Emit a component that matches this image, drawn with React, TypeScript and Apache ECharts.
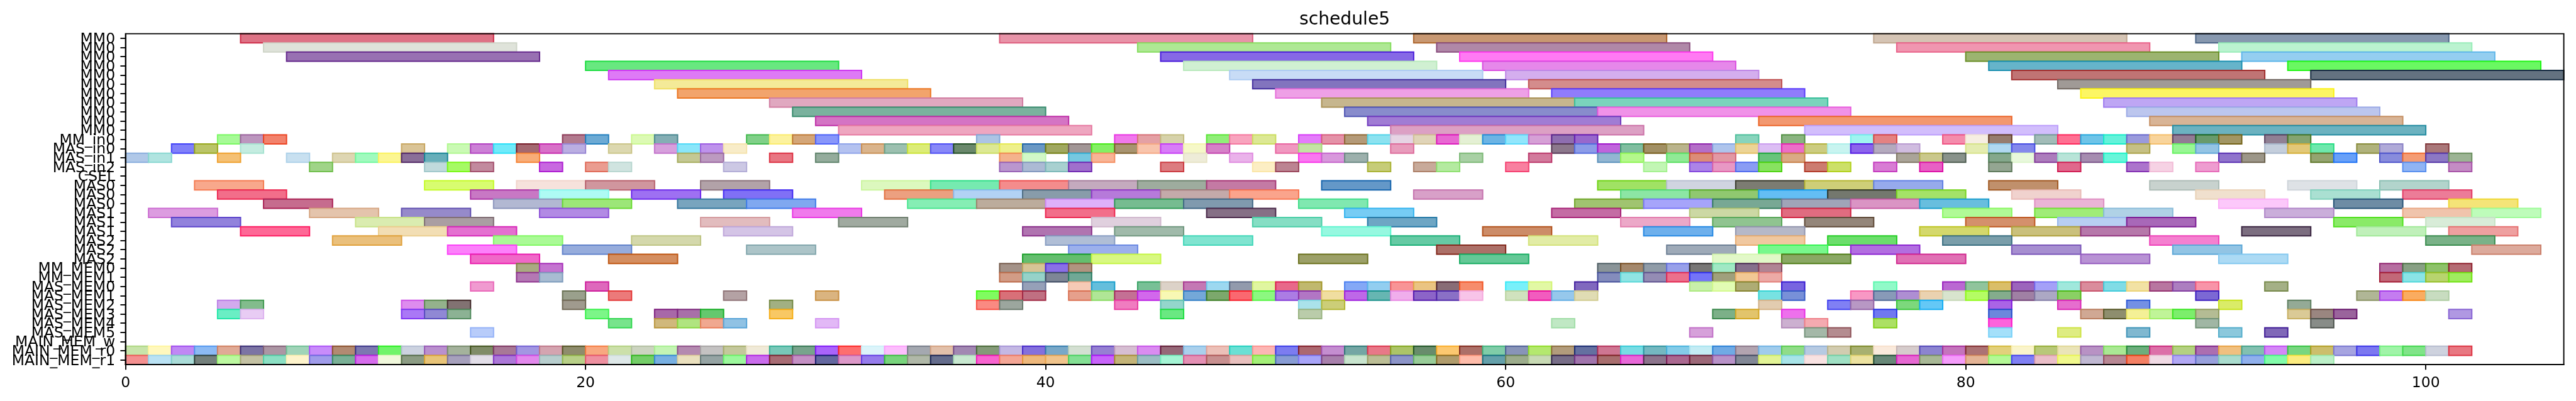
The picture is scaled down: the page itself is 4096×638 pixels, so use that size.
import React, { useEffect, useRef } from 'react';
import * as echarts from 'echarts';

type Task = [number, number, string];

const chartTitle = 'schedule5';
const xTickValues = [0, 20, 40, 60, 80, 100];
const xMin = 0;
const xMax = 106;

const rowLabels = [
  'MM0', 'MM0', 'MM0', 'MM0', 'MM0', 'MM0', 'MM0', 'MM0', 'MM0', 'MM0', 'MM0',
  'MM_in0', 'MAS_in0', 'MAS_in1', 'MAS_in2', 'CSEL',
  'MAS0', 'MAS0', 'MAS0', 'MAS1', 'MAS1', 'MAS1', 'MAS2', 'MAS2', 'MAS2',
  'MM_MEM0', 'MM_MEM1',
  'MAS_MEM0', 'MAS_MEM1', 'MAS_MEM2', 'MAS_MEM3', 'MAS_MEM4', 'MAS_MEM5',
  'MAIN_MEM_w', 'MAIN_MEM_r0', 'MAIN_MEM_r1',
];

const row00: Task[] = [[5, 16, '#de7285'], [38, 49, '#e893a8'], [56, 67, '#c89872'], [76, 87, '#d5c4b4'], [90, 101, '#8798af']];
const row01: Task[] = [[6, 17, '#dfe3da'], [44, 55, '#aee894'], [57, 68, '#b088a8'], [77, 88, '#f096b0'], [91, 102, '#bbf3d0']];
const row02: Task[] = [[7, 18, '#9870b2'], [45, 56, '#8668e6'], [58, 69, '#ff7af3'], [80, 91, '#9cb470'], [92, 103, '#94cef0']];
const row03: Task[] = [[20, 31, '#68e880'], [46, 57, '#d0f0d2'], [59, 70, '#e688ea'], [81, 92, '#66b4ca'], [94, 105, '#6af862']];
const row04: Task[] = [[21, 32, '#de7af6'], [48, 59, '#c8dcf6'], [60, 71, '#d4aeee'], [82, 93, '#c07474'], [95, 106, '#647280']];
const row05: Task[] = [[23, 34, '#f4ea98'], [49, 60, '#8274be'], [61, 72, '#d48c8c'], [84, 95, '#a09a96']];
const row06: Task[] = [[24, 35, '#f2a46c'], [50, 61, '#eea0e6'], [62, 73, '#907cfc'], [85, 96, '#fcf664']];
const row07: Task[] = [[28, 39, '#e0a8c0'], [52, 63, '#c6b68e'], [63, 74, '#7ad4bc'], [86, 97, '#bea6f4']];
const row08: Task[] = [[29, 40, '#7ab29e'], [53, 64, '#888ccc'], [64, 75, '#f092e8'], [87, 98, '#bcc6ee']];
const row09: Task[] = [[30, 41, '#d474c4'], [54, 65, '#a07cd4'], [71, 82, '#f29870'], [88, 99, '#d8b496']];
const row10: Task[] = [[31, 42, '#eea6c0'], [55, 66, '#dca0c4'], [73, 84, '#d2befc'], [89, 100, '#6cb2c0']];

const row11: Task[] = [
  [4, 5, '#a6fa96'], [5, 6, '#bc96be'], [6, 7, '#f2826c'],
  [19, 20, '#b27a8e'], [20, 21, '#6caad4'], [22, 23, '#dcfab4'], [23, 24, '#84aeb4'], [27, 28, '#80d088'], [28, 29, '#fcf29e'], [29, 30, '#d4a678'], [30, 31, '#8896fa'],
  [37, 38, '#acc4e4'], [43, 44, '#f078ec'], [44, 45, '#e4a0a4'], [45, 46, '#d6d2aa'],
  [47, 48, '#90ee78'], [48, 49, '#f8a4be'], [49, 50, '#dce894'], [51, 52, '#e47cfa'], [52, 53, '#e492a8'], [53, 54, '#b49a78'], [54, 55, '#8ce2f0'], [55, 56, '#e6d4e4'], [56, 57, '#e0d4b8'], [57, 58, '#e868d2'], [58, 59, '#e4f0d4'], [59, 60, '#6cb4e4'], [60, 61, '#92e6fc'],
  [61, 62, '#d6a0d6'], [62, 63, '#8e6eb0'], [63, 64, '#9868cc'], [70, 71, '#88d4bc'], [72, 73, '#8ab480'], [75, 76, '#a0f4f0'],
  [76, 77, '#e48282'], [79, 80, '#f48cac'], [80, 81, '#f6eee2'], [81, 82, '#967c6e'], [83, 84, '#a2bcb8'], [84, 85, '#fe7092'], [85, 86, '#6ec4e8'], [86, 87, '#64f2da'], [87, 88, '#9a9adc'], [88, 89, '#f8d49c'], [89, 90, '#927c94'], [90, 91, '#689a6c'], [91, 92, '#a29664'],
  [93, 94, '#908094'], [94, 95, '#84a470'],
];
const row12: Task[] = [
  [2, 3, '#8080fa'], [3, 4, '#bac468'], [5, 6, '#c4ece0'], [12, 13, '#dac496'], [14, 15, '#cafab4'], [15, 16, '#cc80d6'],
  [16, 17, '#70eafa'], [17, 18, '#a46870'], [18, 19, '#d870c8'], [19, 20, '#baaee2'], [21, 22, '#dcd8b0'], [23, 24, '#d6a0dc'], [24, 25, '#8ae6fa'], [25, 26, '#be92ec'], [26, 27, '#f8ecc8'],
  [31, 32, '#b4c2f0'], [32, 33, '#dab48c'], [33, 34, '#9cc0b0'], [34, 35, '#dcec78'], [35, 36, '#8888f8'], [36, 37, '#6a886c'], [37, 38, '#dce894'], [38, 39, '#eef08c'], [39, 40, '#6a98c4'], [40, 41, '#a0a860'], [41, 42, '#a29696'], [42, 43, '#84f064'], [43, 44, '#a89470'], [44, 45, '#f8c4ac'], [45, 46, '#d87cf8'],
  [46, 47, '#f6f8c8'], [47, 48, '#d680c8'], [50, 51, '#f098c0'], [51, 52, '#c4e4a4'], [55, 56, '#e89cbc'],
  [62, 63, '#8c788c'], [63, 64, '#8c9ce8'], [64, 65, '#c064dc'], [65, 66, '#80bea0'], [66, 67, '#a29064'], [67, 68, '#bab48c'], [68, 69, '#b46ec8'], [69, 70, '#aec4ec'], [70, 71, '#ecd496'], [71, 72, '#dcbef4'], [72, 73, '#ec6ec8'], [73, 74, '#cccc80'], [74, 75, '#c8f4f0'], [75, 76, '#8c64ec'],
  [76, 77, '#b4aabe'], [77, 78, '#d0bce0'], [80, 81, '#e4ecb0'], [81, 82, '#b0d8f0'], [82, 83, '#8488ec'], [87, 88, '#c6c084'], [89, 90, '#98f694'], [90, 91, '#94c4e4'],
  [93, 94, '#c4cedc'], [94, 95, '#e2c878'], [95, 96, '#6ee8ac'], [97, 98, '#b0b27c'], [98, 99, '#b0aad8'], [100, 101, '#aa787a'],
];
const row13: Task[] = [
  [0, 1, '#b0c8e8'], [1, 2, '#b0e4e0'], [4, 5, '#f4c074'], [7, 8, '#c8e0f0'], [9, 10, '#ded6b2'], [10, 11, '#a0fabe'], [11, 12, '#fcf692'], [12, 13, '#8a6e98'], [13, 14, '#66aeba'],
  [17, 18, '#f8ac78'], [24, 25, '#c4c894'], [25, 26, '#bc9ac0'], [28, 29, '#e87682'], [30, 31, '#94ac9c'],
  [38, 39, '#f4b28c'], [39, 40, '#d2f8c8'], [41, 42, '#76c8e0'], [42, 43, '#f8b496'],
  [46, 47, '#eeecd8'], [48, 49, '#eab2ea'], [51, 52, '#fa78f0'], [52, 53, '#d898dc'], [53, 54, '#9cb0ac'], [58, 59, '#a8d0a4'],
  [61, 62, '#d27a9c'], [64, 65, '#92b6d2'], [65, 66, '#b4f88c'], [67, 68, '#90ea96'], [68, 69, '#dc8c78'], [69, 70, '#e298a4'], [71, 72, '#68c47c'], [72, 73, '#daaa84'],
  [77, 78, '#aaa498'], [78, 79, '#cac88c'], [79, 80, '#88928a'], [81, 82, '#84a88c'], [82, 83, '#e8f8dc'], [83, 84, '#ac7cbc'], [84, 85, '#b8e4d8'], [85, 86, '#a68cb0'], [86, 87, '#68f6da'], [91, 92, '#9074cc'],
  [92, 93, '#9c9688'], [95, 96, '#94a470'], [96, 97, '#68a0f8'], [98, 99, '#888cdc'], [99, 100, '#f49c74'], [100, 101, '#8c78c4'], [101, 102, '#9cb494'],
];
const row14: Task[] = [
  [8, 9, '#a0d488'], [13, 14, '#c0dadc'], [14, 15, '#a6fa64'], [15, 16, '#c28a9e'],
  [18, 19, '#c868e0'], [20, 21, '#ea9c90'], [21, 22, '#d0e4e0'], [26, 27, '#ccc8e4'],
  [38, 39, '#ba96ce'], [39, 40, '#acbad4'], [40, 41, '#a8d0d0'], [41, 42, '#a070cc'], [45, 46, '#dc7c80'],
  [49, 50, '#fceec4'], [50, 51, '#bc8492'], [54, 55, '#c6cc78'], [56, 57, '#c8aa9a'], [57, 58, '#b4eaa0'], [60, 61, '#f880a0'],
  [66, 67, '#c2f6b4'], [68, 69, '#ac84e8'], [69, 70, '#e898c4'], [70, 71, '#8a9cf4'], [71, 72, '#88e260'], [73, 74, '#cc7c70'], [74, 75, '#cce068'],
  [76, 77, '#d87cd4'], [78, 79, '#e860c4'], [81, 82, '#94a692'], [84, 85, '#e0688c'], [87, 88, '#ac74cc'], [88, 89, '#f6d2e4'], [90, 91, '#ee9cd0'],
  [99, 100, '#90b4f4'], [101, 102, '#c48cc4'],
];
const row15: Task[] = [];
const row16: Task[] = [[3, 6, '#f8a88c'], [13, 16, '#d8fc70'], [17, 20, '#f6e2dc'], [20, 23, '#d0969e'], [25, 28, '#b2a2a8'], [32, 35, '#dcf8be'], [35, 38, '#76eab0'], [38, 41, '#f48c8c'], [41, 44, '#c4aabe'], [44, 47, '#9eac9e'], [47, 50, '#c47aa4'], [52, 55, '#6498c8'], [64, 67, '#a0e264'], [67, 70, '#d0d4e0'], [70, 73, '#7c7c72'], [73, 76, '#cece78'], [76, 79, '#96aaec'], [81, 84, '#c0906c'], [88, 91, '#c8d2ce'], [94, 97, '#dee2e6'], [98, 101, '#b2d4cc']];
const row17: Task[] = [[4, 7, '#f26e8a'], [15, 18, '#c878c4'], [18, 21, '#aefaf4'], [22, 25, '#9e70f2'], [26, 29, '#8070f6'], [33, 36, '#eca080'], [36, 39, '#b2d2f4'], [39, 42, '#889caa'], [42, 45, '#b67ada'], [45, 48, '#c4aaaa'], [48, 51, '#faa48c'], [56, 59, '#d8a0c8'], [65, 68, '#8ce6a4'], [68, 71, '#90c870'], [71, 74, '#64bef4'], [74, 77, '#74786e'], [77, 80, '#a4e268'], [82, 85, '#f0d2ce'], [90, 93, '#f0e0ce'], [95, 98, '#aae0d2'], [99, 102, '#ec7c98']];
const row18: Task[] = [[6, 9, '#c66c8e'], [16, 19, '#b2b8d2'], [19, 22, '#9ce678'], [24, 27, '#78a4be'], [27, 30, '#80a8f0'], [34, 37, '#86eeb4'], [37, 40, '#bcac9c'], [40, 43, '#deb0fa'], [43, 46, '#76bc90'], [46, 49, '#809aae'], [51, 54, '#80e8b0'], [63, 66, '#a0c470'], [66, 69, '#a6a4fa'], [69, 72, '#78a894'], [72, 75, '#a0a4b8'], [75, 78, '#da94c4'], [78, 81, '#68bede'], [83, 86, '#eab4d6'], [91, 94, '#fcc8fa'], [96, 99, '#6e8ca4'], [101, 104, '#f4e478']];
const row19: Task[] = [[1, 4, '#dc9ce0'], [8, 11, '#e4c4ac'], [12, 15, '#968aca'], [18, 21, '#b28ae4'], [29, 32, '#f07aec'], [40, 43, '#f26e8a'], [47, 50, '#867086'], [53, 56, '#76ccf4'], [62, 65, '#c46ca4'], [68, 71, '#ccd8a4'], [72, 75, '#e06c80'], [79, 82, '#b0fa96'], [83, 86, '#a0ec78'], [86, 89, '#b0d2e6'], [93, 96, '#caaeda'], [99, 102, '#f0c4ac'], [102, 105, '#befcba']];
const row20: Task[] = [[2, 5, '#9282dc'], [10, 13, '#daecb0'], [13, 16, '#aa9ea2'], [25, 28, '#e2bcbe'], [31, 34, '#a0aaa0'], [42, 45, '#e0d0de'], [49, 52, '#86dec4'], [54, 57, '#6ea6c4'], [65, 68, '#eca8c8'], [69, 72, '#90c490'], [73, 76, '#94867a'], [80, 83, '#d4906c'], [84, 87, '#b8cef2'], [87, 90, '#a868b8'], [96, 99, '#8aea68'], [100, 103, '#d8ecd8']];
const row21: Task[] = [[5, 8, '#fe6896'], [11, 14, '#f2deb4'], [14, 17, '#e470d0'], [26, 29, '#d4c4e6'], [39, 42, '#b074b0'], [43, 46, '#a0baaa'], [52, 55, '#96f8e0'], [59, 62, '#cc8c68'], [66, 69, '#6eb0ec'], [70, 73, '#b6b8c8'], [78, 81, '#d4d86c'], [82, 85, '#cac07c'], [85, 88, '#b678aa'], [92, 95, '#7c6e80'], [97, 100, '#c0f0ba'], [101, 104, '#eea0a0']];
const row22: Task[] = [[9, 12, '#eac07c'], [16, 19, '#aafa96'], [22, 25, '#d4d8ac'], [40, 43, '#b0bed6'], [46, 49, '#80e4d0'], [55, 58, '#66caa4'], [61, 64, '#e2eca6'], [70, 73, '#f0c8a0'], [74, 77, '#6cde6c'], [79, 82, '#7a9eaa'], [88, 91, '#f480d0'], [100, 103, '#7ab288']];
const row23: Task[] = [[14, 17, '#fc80fa'], [19, 22, '#96acdc'], [27, 30, '#acc4c8'], [41, 44, '#9cb0ec'], [57, 60, '#ac7068'], [67, 70, '#9eaab8'], [71, 74, '#78f88c'], [75, 78, '#b26ee0'], [82, 85, '#a68ed0'], [89, 92, '#92c4e4'], [102, 105, '#dcaa9c']];
const row24: Task[] = [[15, 18, '#f068c8'], [21, 24, '#d48e60'], [39, 42, '#64be6e'], [42, 45, '#d8f882'], [51, 54, '#9ca068'], [58, 61, '#64c896'], [69, 72, '#e2f8c8'], [72, 75, '#8aa864'], [77, 80, '#e070b4'], [85, 88, '#b892d4'], [91, 94, '#acdaf4']];

const row25: Task[] = [[17, 18, '#aaaa82'], [18, 19, '#c474d0'], [38, 39, '#a49288'], [39, 40, '#d6c496'], [40, 41, '#8a70e6'], [41, 42, '#b09480'], [64, 65, '#8a9498'], [65, 66, '#a4886c'], [66, 67, '#909ca8'], [67, 68, '#98a0ea'], [68, 69, '#787676'], [69, 70, '#a0e8c4'], [70, 71, '#86708c'], [71, 72, '#b08494'], [98, 99, '#b66ea0'], [99, 100, '#88a084'], [100, 101, '#8ec26a'], [101, 102, '#b46c74']];
const row26: Task[] = [[17, 18, '#b478b4'], [18, 19, '#a8bcd2'], [38, 39, '#d29c86'], [39, 40, '#96d2c8'], [40, 41, '#7e8696'], [41, 42, '#70a896'], [64, 65, '#848cbc'], [65, 66, '#90e4e4'], [66, 67, '#948cb4'], [67, 68, '#ec708c'], [68, 69, '#7474f8'], [69, 70, '#a0a07c'], [70, 71, '#f2c894'], [71, 72, '#ecaaa6'], [98, 99, '#c26878'], [99, 100, '#8ae4e6'], [100, 101, '#b8d46e'], [101, 102, '#a0ec60']];
const row27: Task[] = [
  [15, 16, '#f09ad0'], [20, 21, '#de68bc'], [39, 40, '#96a0b8'], [41, 42, '#f6cab6'], [42, 43, '#64bedc'], [44, 45, '#78c096'], [45, 46, '#dcd2c8'],
  [46, 47, '#c478b4'], [47, 48, '#9cd8f0'], [48, 49, '#929aac'], [49, 50, '#e0f6a0'], [50, 51, '#e8688a'], [51, 52, '#c0b86e'], [53, 54, '#84a8f6'], [54, 55, '#92cef0'], [55, 56, '#f89496'], [56, 57, '#eac482'], [57, 58, '#886c76'], [58, 59, '#f68c6c'], [60, 61, '#78f0fa'],
  [61, 62, '#e2f8a4'], [63, 64, '#8068be'], [68, 69, '#c8f0aa'], [69, 70, '#e2fcb4'], [70, 71, '#aeac74'], [72, 73, '#7864e0'],
  [76, 77, '#90fac8'], [79, 80, '#ba68d2'], [80, 81, '#90c49c'], [81, 82, '#dabe68'], [82, 83, '#9c64bc'], [83, 84, '#a4a0f8'], [84, 85, '#a0e8dc'], [85, 86, '#da8c9c'], [86, 87, '#80dce6'], [87, 88, '#f2e2a4'], [88, 89, '#b876a0'], [89, 90, '#ac7ec0'], [90, 91, '#f894a8'],
  [93, 94, '#a4b086'],
];
const row28: Task[] = [
  [19, 20, '#9aa08c'], [21, 22, '#ec7a7a'], [26, 27, '#b4a2a4'], [30, 31, '#dab480'],
  [37, 38, '#80fc60'], [38, 39, '#d87078'], [39, 40, '#c07082'], [41, 42, '#e6a08c'], [42, 43, '#b0e696'], [43, 44, '#c47094'], [44, 45, '#d268ec'], [45, 46, '#f8f8b4'],
  [46, 47, '#74a8d8'], [47, 48, '#7ca86c'], [48, 49, '#fa6870'], [49, 50, '#8cf880'], [50, 51, '#ac7ce4'], [51, 52, '#b276c4'], [52, 53, '#f0dea0'], [53, 54, '#be68e8'], [54, 55, '#66b6b2'], [55, 56, '#f0aeec'], [56, 57, '#8c64c8'], [57, 58, '#8a70c6'], [58, 59, '#f8c4e8'], [60, 61, '#d0e2be'],
  [61, 62, '#f25cbe'], [62, 63, '#96c8ec'], [63, 64, '#e0dcb4'], [71, 72, '#78e2e2'], [72, 73, '#7890d8'], [75, 76, '#f898c4'],
  [76, 77, '#889ab8'], [77, 78, '#ae8ed2'], [78, 79, '#ead2b0'], [79, 80, '#d8e4ce'], [80, 81, '#b4fc64'], [81, 82, '#84ac8c'], [82, 83, '#a080a4'], [83, 84, '#aca8c4'], [84, 85, '#8ad064'], [90, 91, '#7c68d4'],
  [97, 98, '#b0b696'], [98, 99, '#c47cf0'], [99, 100, '#faac60'], [100, 101, '#c8dcc0'],
];
const row29: Task[] = [[4, 5, '#d2aaee'], [5, 6, '#82bc8c'], [12, 13, '#de8cee'], [13, 14, '#94b28c'], [14, 15, '#827272'], [19, 20, '#a09a8e'], [28, 29, '#a2b082'], [37, 38, '#fa8a82'], [38, 39, '#9ca69e'], [43, 44, '#f07cc0'], [45, 46, '#94d6cc'], [51, 52, '#aae2ea'], [52, 53, '#ccce78'], [71, 72, '#e2ccb0'], [74, 75, '#8080f4'], [75, 76, '#b898c4'], [77, 78, '#7cd87c'], [78, 79, '#64c8f6'], [81, 82, '#aa64e6'], [84, 85, '#e66ece'], [87, 88, '#7490e4'], [91, 92, '#daec68'], [94, 95, '#94aa96']];
const row30: Task[] = [[4, 5, '#6aeec4'], [5, 6, '#e8ccf4'], [12, 13, '#aa78f6'], [13, 14, '#9088d4'], [14, 15, '#8cb294'], [20, 21, '#7cf688'], [23, 24, '#a868a8'], [24, 25, '#a870a8'], [25, 26, '#64c86e'], [28, 29, '#f8c864'], [45, 46, '#6ae882'], [51, 52, '#baccaa'], [69, 70, '#7cb088'], [70, 71, '#e2c46c'], [72, 73, '#ee70ec'], [76, 77, '#7078f0'], [81, 82, '#6c88dc'], [85, 86, '#d0a894'], [86, 87, '#8e8e6e'], [87, 88, '#f4f096'], [88, 89, '#c0f498'], [89, 90, '#7cee6c'], [90, 91, '#b4bc94'], [94, 95, '#daca96'], [95, 96, '#9a8680'], [96, 97, '#9a649c'], [101, 102, '#b098e2']];
const row31: Task[] = [[21, 22, '#78e48c'], [23, 24, '#d0b87c'], [24, 25, '#b0e480'], [25, 26, '#f0a890'], [26, 27, '#90c2e4'], [30, 31, '#e2b8f6'], [62, 63, '#c0e8c4'], [72, 73, '#ccb0d0'], [73, 74, '#f4aab0'], [76, 77, '#ace064'], [81, 82, '#fc64dc'], [90, 91, '#a0b6a4'], [95, 96, '#888c88']];
const row32: Task[] = [[15, 16, '#b8ccfa'], [68, 69, '#d6a0da'], [73, 74, '#a4b8a8'], [74, 75, '#b48c90'], [81, 82, '#a4e0fa'], [84, 85, '#deec82'], [87, 88, '#80b8d0'], [91, 92, '#8cc8dc'], [93, 94, '#8068b8']];
const row33: Task[] = [];
const row34: Task[] = [
  [0, 1, '#c8e4aa'], [1, 2, '#fff8be'], [2, 3, '#c088f4'], [3, 4, '#8cbaf4'], [4, 5, '#e0aa96'], [5, 6, '#7c74a4'], [6, 7, '#ac96a4'], [7, 8, '#a0d4b8'], [8, 9, '#c88cfa'], [9, 10, '#b28a72'],
  [10, 11, '#7c78b0'], [11, 12, '#70f46a'], [12, 13, '#ccd2e0'], [13, 14, '#ba90ce'], [14, 15, '#a4b29c'], [15, 16, '#808c68'], [16, 17, '#a87896'], [17, 18, '#a296e2'], [18, 19, '#d4a4b0'], [19, 20, '#8e8c6c'],
  [20, 21, '#f8a880'], [21, 22, '#cce0aa'], [22, 23, '#ccd4c0'], [23, 24, '#c4f4b4'], [24, 25, '#b48ab0'], [25, 26, '#c4c2c2'], [26, 27, '#c4c89c'], [27, 28, '#f0ead8'], [28, 29, '#78c8b8'], [29, 30, '#78a48c'],
  [30, 31, '#aa64fa'], [31, 32, '#fe6e6e'], [32, 33, '#dcf4fa'], [33, 34, '#fcbefc'], [34, 35, '#a4a8b0'], [35, 36, '#e2c0aa'], [36, 37, '#a288b2'], [37, 38, '#849a78'], [38, 39, '#c4b8e4'], [39, 40, '#8470dc'],
  [40, 41, '#78a8c8'], [41, 42, '#d4e0d2'], [42, 43, '#9680d2'], [43, 44, '#d6bed2'], [44, 45, '#da8cf0'], [45, 46, '#966878'], [46, 47, '#aad0ec'], [47, 48, '#ecc0b8'], [48, 49, '#6ae0d4'], [49, 50, '#fcb6b4'],
  [50, 51, '#7c7cf0'], [51, 52, '#ac6870'], [52, 53, '#c48ed0'], [53, 54, '#74a6a4'], [54, 55, '#e87888'], [55, 56, '#acc468'], [56, 57, '#688c6c'], [57, 58, '#fcc870'], [58, 59, '#ac7068'], [59, 60, '#80cca8'],
  [60, 61, '#8894b8'], [61, 62, '#b4e86e'], [62, 63, '#b29c7c'], [63, 64, '#6470a0'], [64, 65, '#ce7692'], [65, 66, '#78dce4'], [66, 67, '#74b8c0'], [67, 68, '#84cce8'], [68, 69, '#c4ecf4'], [69, 70, '#70aae4'],
  [70, 71, '#b2a4b0'], [71, 72, '#a0ccec'], [72, 73, '#90dc88'], [73, 74, '#b6cae2'], [74, 75, '#d2ccb0'], [75, 76, '#a8b070'], [76, 77, '#faeadc'], [77, 78, '#d6cccc'], [78, 79, '#8c84d0'], [79, 80, '#c474bc'],
  [80, 81, '#ac7274'], [81, 82, '#e2d07c'], [82, 83, '#faf4cc'], [83, 84, '#b8c878'], [84, 85, '#eae4b8'], [85, 86, '#b892c4'], [86, 87, '#aae894'], [87, 88, '#6cae7c'], [88, 89, '#dc70a8'], [89, 90, '#b4d082'],
  [90, 91, '#ac6eb0'], [91, 92, '#f0c080'], [92, 93, '#82c0b0'], [93, 94, '#d488f6'], [94, 95, '#78d680'], [95, 96, '#ccbe6c'], [96, 97, '#a6a4e0'], [97, 98, '#7c78f0'], [98, 99, '#a0f4a8'], [99, 100, '#80e488'],
  [100, 101, '#ced2de'], [101, 102, '#e87882'],
];
const row35: Task[] = [
  [0, 1, '#f49090'], [1, 2, '#bae2f4'], [2, 3, '#aadcd8'], [3, 4, '#74807c'], [4, 5, '#bcf8a0'], [5, 6, '#c4c2a4'], [6, 7, '#8ce0c4'], [7, 8, '#fef4cc'], [8, 9, '#a09cea'], [9, 10, '#7ab096'],
  [10, 11, '#d66cec'], [11, 12, '#f0f8dc'], [12, 13, '#8c9c84'], [13, 14, '#e8c478'], [14, 15, '#a6a0bc'], [15, 16, '#e2dee8'], [16, 17, '#ac78d8'], [17, 18, '#e288ec'], [18, 19, '#b8cece'], [19, 20, '#b8d088'],
  [20, 21, '#ee90a0'], [21, 22, '#dee8e8'], [22, 23, '#74ce68'], [23, 24, '#78b0e2'], [24, 25, '#eae0be'], [25, 26, '#96a4a4'], [26, 27, '#9cf89c'], [27, 28, '#ca6cec'], [28, 29, '#a86c74'], [29, 30, '#c490c4'],
  [30, 31, '#6468a0'], [31, 32, '#dc98c8'], [32, 33, '#967cec'], [33, 34, '#78d47c'], [34, 35, '#b0b8a8'], [35, 36, '#646c8c'], [36, 37, '#c8e8d0'], [37, 38, '#f864d0'], [38, 39, '#f4a696'], [39, 40, '#eeb87c'],
  [40, 41, '#f0c48c'], [41, 42, '#84e094'], [42, 43, '#c864fa'], [43, 44, '#c4b478'], [44, 45, '#9cbec4'], [45, 46, '#a4f4d4'], [46, 47, '#e490b4'], [47, 48, '#c89090'], [48, 49, '#e8c0be'], [49, 50, '#a4f078'],
  [50, 51, '#889cd4'], [51, 52, '#a8a4f8'], [52, 53, '#a880ac'], [53, 54, '#c8e4ce'], [54, 55, '#bcbe96'], [55, 56, '#8c94c8'], [56, 57, '#98cc98'], [57, 58, '#b09c6c'], [58, 59, '#febcaa'], [59, 60, '#64a0aa'],
  [60, 61, '#9cac8c'], [61, 62, '#c8dab4'], [62, 63, '#786e88'], [63, 64, '#a074ac'], [64, 65, '#a86e6e'], [65, 66, '#e868d8'], [66, 67, '#8c748c'], [67, 68, '#aa6890'], [68, 69, '#9c6878'], [69, 70, '#b892c8'],
  [70, 71, '#828896'], [71, 72, '#e2f496'], [72, 73, '#a8e4e8'], [73, 74, '#f8e2e2'], [74, 75, '#a0e0c4'], [75, 76, '#ece2a0'], [76, 77, '#688878'], [77, 78, '#e668d2'], [78, 79, '#a8b896'], [79, 80, '#f49cfa'],
  [80, 81, '#e4b496'], [81, 82, '#b4f896'], [82, 83, '#8080f4'], [83, 84, '#eabec8'], [84, 85, '#f0f88c'], [85, 86, '#c0b8d2'], [86, 87, '#b88894'], [87, 88, '#f48064'], [88, 89, '#f0dae4'], [89, 90, '#b2a8f4'],
  [90, 91, '#98a0dc'], [91, 92, '#aadcce'], [92, 93, '#90b0ec'], [93, 94, '#82fcaa'], [94, 95, '#fcec80'], [95, 96, '#bcf0c8'],
];

const rowTasks: Task[][] = [
  row00, row01, row02, row03, row04, row05, row06, row07, row08, row09, row10,
  row11, row12, row13, row14, row15, row16, row17, row18, row19, row20, row21, row22, row23, row24,
  row25, row26, row27, row28, row29, row30, row31, row32, row33, row34, row35,
];

function edgeColor(hex: string): string {
  const n = parseInt(hex.slice(1), 16);
  const f = (v: number) => Math.max(0, Math.min(255, Math.round(1.5 * v - 127.5)));
  return `rgb(${f((n >> 16) & 255)},${f((n >> 8) & 255)},${f(n & 255)})`;
}

const FONT = 'DejaVu Sans';

export default function App() {
  const ref = useRef<HTMLDivElement>(null);
  useEffect(() => {
    if (!ref.current) return;
    const chart = echarts.init(ref.current, null, { renderer: 'svg' });
    const flat: { row: number; s: number; e: number; c: string }[] = [];
    rowTasks.forEach((tasks, i) => tasks.forEach((t) => flat.push({ row: i, s: t[0], e: t[1], c: t[2] })));

    const gridLeft = 199.6;
    const gridRight = 19.4;
    const gridTop = 53.6;
    const gridBottom = 58;
    const plotCenter = gridLeft + (4096 - gridLeft - gridRight) / 2;

    chart.setOption({
      animation: false,
      textStyle: { fontFamily: FONT },
      graphic: [
        {
          type: 'text',
          x: plotCenter,
          y: 29.7,
          style: {
            text: chartTitle,
            fontSize: 28.2,
            fontFamily: FONT,
            fill: '#000',
            align: 'center',
            verticalAlign: 'middle',
            textAlign: 'center',
            textVerticalAlign: 'middle',
          },
        },
      ],
      grid: {
        left: gridLeft,
        right: gridRight,
        top: gridTop,
        bottom: gridBottom,
        show: true,
        borderColor: '#000',
        borderWidth: 1.9,
        backgroundColor: 'transparent',
        z: 6,
      },
      xAxis: {
        type: 'value',
        min: xMin,
        max: xMax,
        z: 6,
        splitLine: { show: false },
        axisLine: { show: true, lineStyle: { color: '#000', width: 1.9 } },
        axisTick: { show: true, length: 8.2, lineStyle: { color: '#000', width: 1.9 }, customValues: xTickValues },
        axisLabel: { customValues: xTickValues, fontSize: 23.5, color: '#000', margin: 16, fontFamily: FONT },
      },
      yAxis: {
        type: 'category',
        inverse: true,
        data: rowLabels,
        z: 6,
        axisLine: { show: true, lineStyle: { color: '#000', width: 1.9 } },
        axisTick: { show: true, alignWithLabel: true, length: 8.2, lineStyle: { color: '#000', width: 1.9 } },
        axisLabel: { interval: 0, fontSize: 23.5, color: '#000', margin: 16.5, fontFamily: FONT },
        splitLine: { show: false },
      },
      series: [
        {
          type: 'custom',
          encode: { x: [1, 2], y: 0 },
          data: flat.map((f) => [f.row, f.s, f.e]),
          renderItem: (params: any, api: any) => {
            const row = api.value(0);
            const p0 = api.coord([api.value(1), row]);
            const p1 = api.coord([api.value(2), row]);
            const h = api.size([0, 1])[1];
            const c = flat[params.dataIndex].c;
            return {
              type: 'rect',
              shape: { x: p0[0], y: p0[1] - h / 2, width: p1[0] - p0[0], height: h },
              style: { fill: c, stroke: edgeColor(c), lineWidth: 2 },
            };
          },
        },
      ],
    });
    return () => chart.dispose();
  }, []);
  return <div ref={ref} style={{ position: 'fixed', left: 0, top: 0, width: 4096, height: 638 }} />;
}
